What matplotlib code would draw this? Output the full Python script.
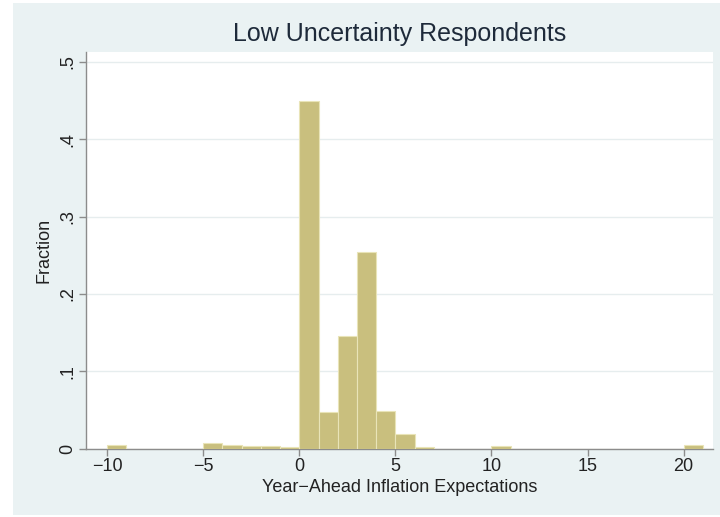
import matplotlib
matplotlib.use("Agg")
import matplotlib.pyplot as plt
from matplotlib.patches import Rectangle

# histogram bins (left edges, width 1) and fractions
bin_left = [-10, -9, -8, -7, -6, -5, -4, -3, -2, -1, 0, 1, 2, 3, 4, 5, 6,
            7, 8, 9, 10, 11, 12, 13, 14, 15, 16, 17, 18, 19, 20]
fraction = [0.004, 0, 0, 0, 0, 0.007, 0.0045, 0.003, 0.003, 0.002,
            0.450, 0.047, 0.145, 0.254, 0.048, 0.0185, 0.0015,
            0, 0, 0, 0.003, 0, 0, 0, 0, 0, 0, 0, 0, 0, 0.004]
x_ticks = [-10, -5, 0, 5, 10, 15, 20]
x_labels = ["\u221210", "\u22125", "0", "5", "10", "15", "20"]
y_ticks = [0, 0.1, 0.2, 0.3, 0.4, 0.5]
y_labels = ["0", ".1", ".2", ".3", ".4", ".5"]

plt.rcParams["font.family"] = ["Liberation Sans", "DejaVu Sans"]

W, H = 720, 517
fig = plt.figure(figsize=(W / 100, H / 100), dpi=100)
fig.patch.set_facecolor("white")
fig.patches.append(Rectangle((13 / W, 2 / H), 1 - 13 / W, 1 - 5 / H,
                             transform=fig.transFigure, facecolor="#EAF2F3",
                             edgecolor="none", zorder=-10))

ax = fig.add_axes([86 / W, (H - 448.5) / H, (712.5 - 86) / W, (448.5 - 52) / H])
ax.set_facecolor("white")

ax.bar(bin_left, fraction, width=1, align="edge", color="#C9BF7E",
       edgecolor="#E9E4B8", linewidth=0.8, zorder=3)

ax.set_xlim(-11.1, 21.5)
ax.set_ylim(0, 0.513)

ax.set_yticks(y_ticks)
ax.set_yticklabels(y_labels, rotation=90, va="center")
ax.set_xticks(x_ticks)
ax.set_xticklabels(x_labels)
ax.grid(axis="y", color="#E6EDEE", linewidth=1.0, zorder=0)

for side in ["top", "right"]:
    ax.spines[side].set_visible(False)
for side in ["left", "bottom"]:
    ax.spines[side].set_color("#8C8C8C")
    ax.spines[side].set_linewidth(1.0)

ax.tick_params(axis="both", direction="out", length=5, width=1,
               color="#8C8C8C", labelsize=13, labelcolor="#222222", pad=2)

ax.set_xlabel("Year\u2212Ahead Inflation Expectations", fontsize=13,
              color="#222222", labelpad=3)
ax.set_ylabel("Fraction", fontsize=13, color="#222222", labelpad=5)
ax.set_title("Low Uncertainty Respondents", fontsize=18, color="#1E2A3A", pad=8)

fig.savefig("out.png", dpi=100, facecolor=fig.get_facecolor())
